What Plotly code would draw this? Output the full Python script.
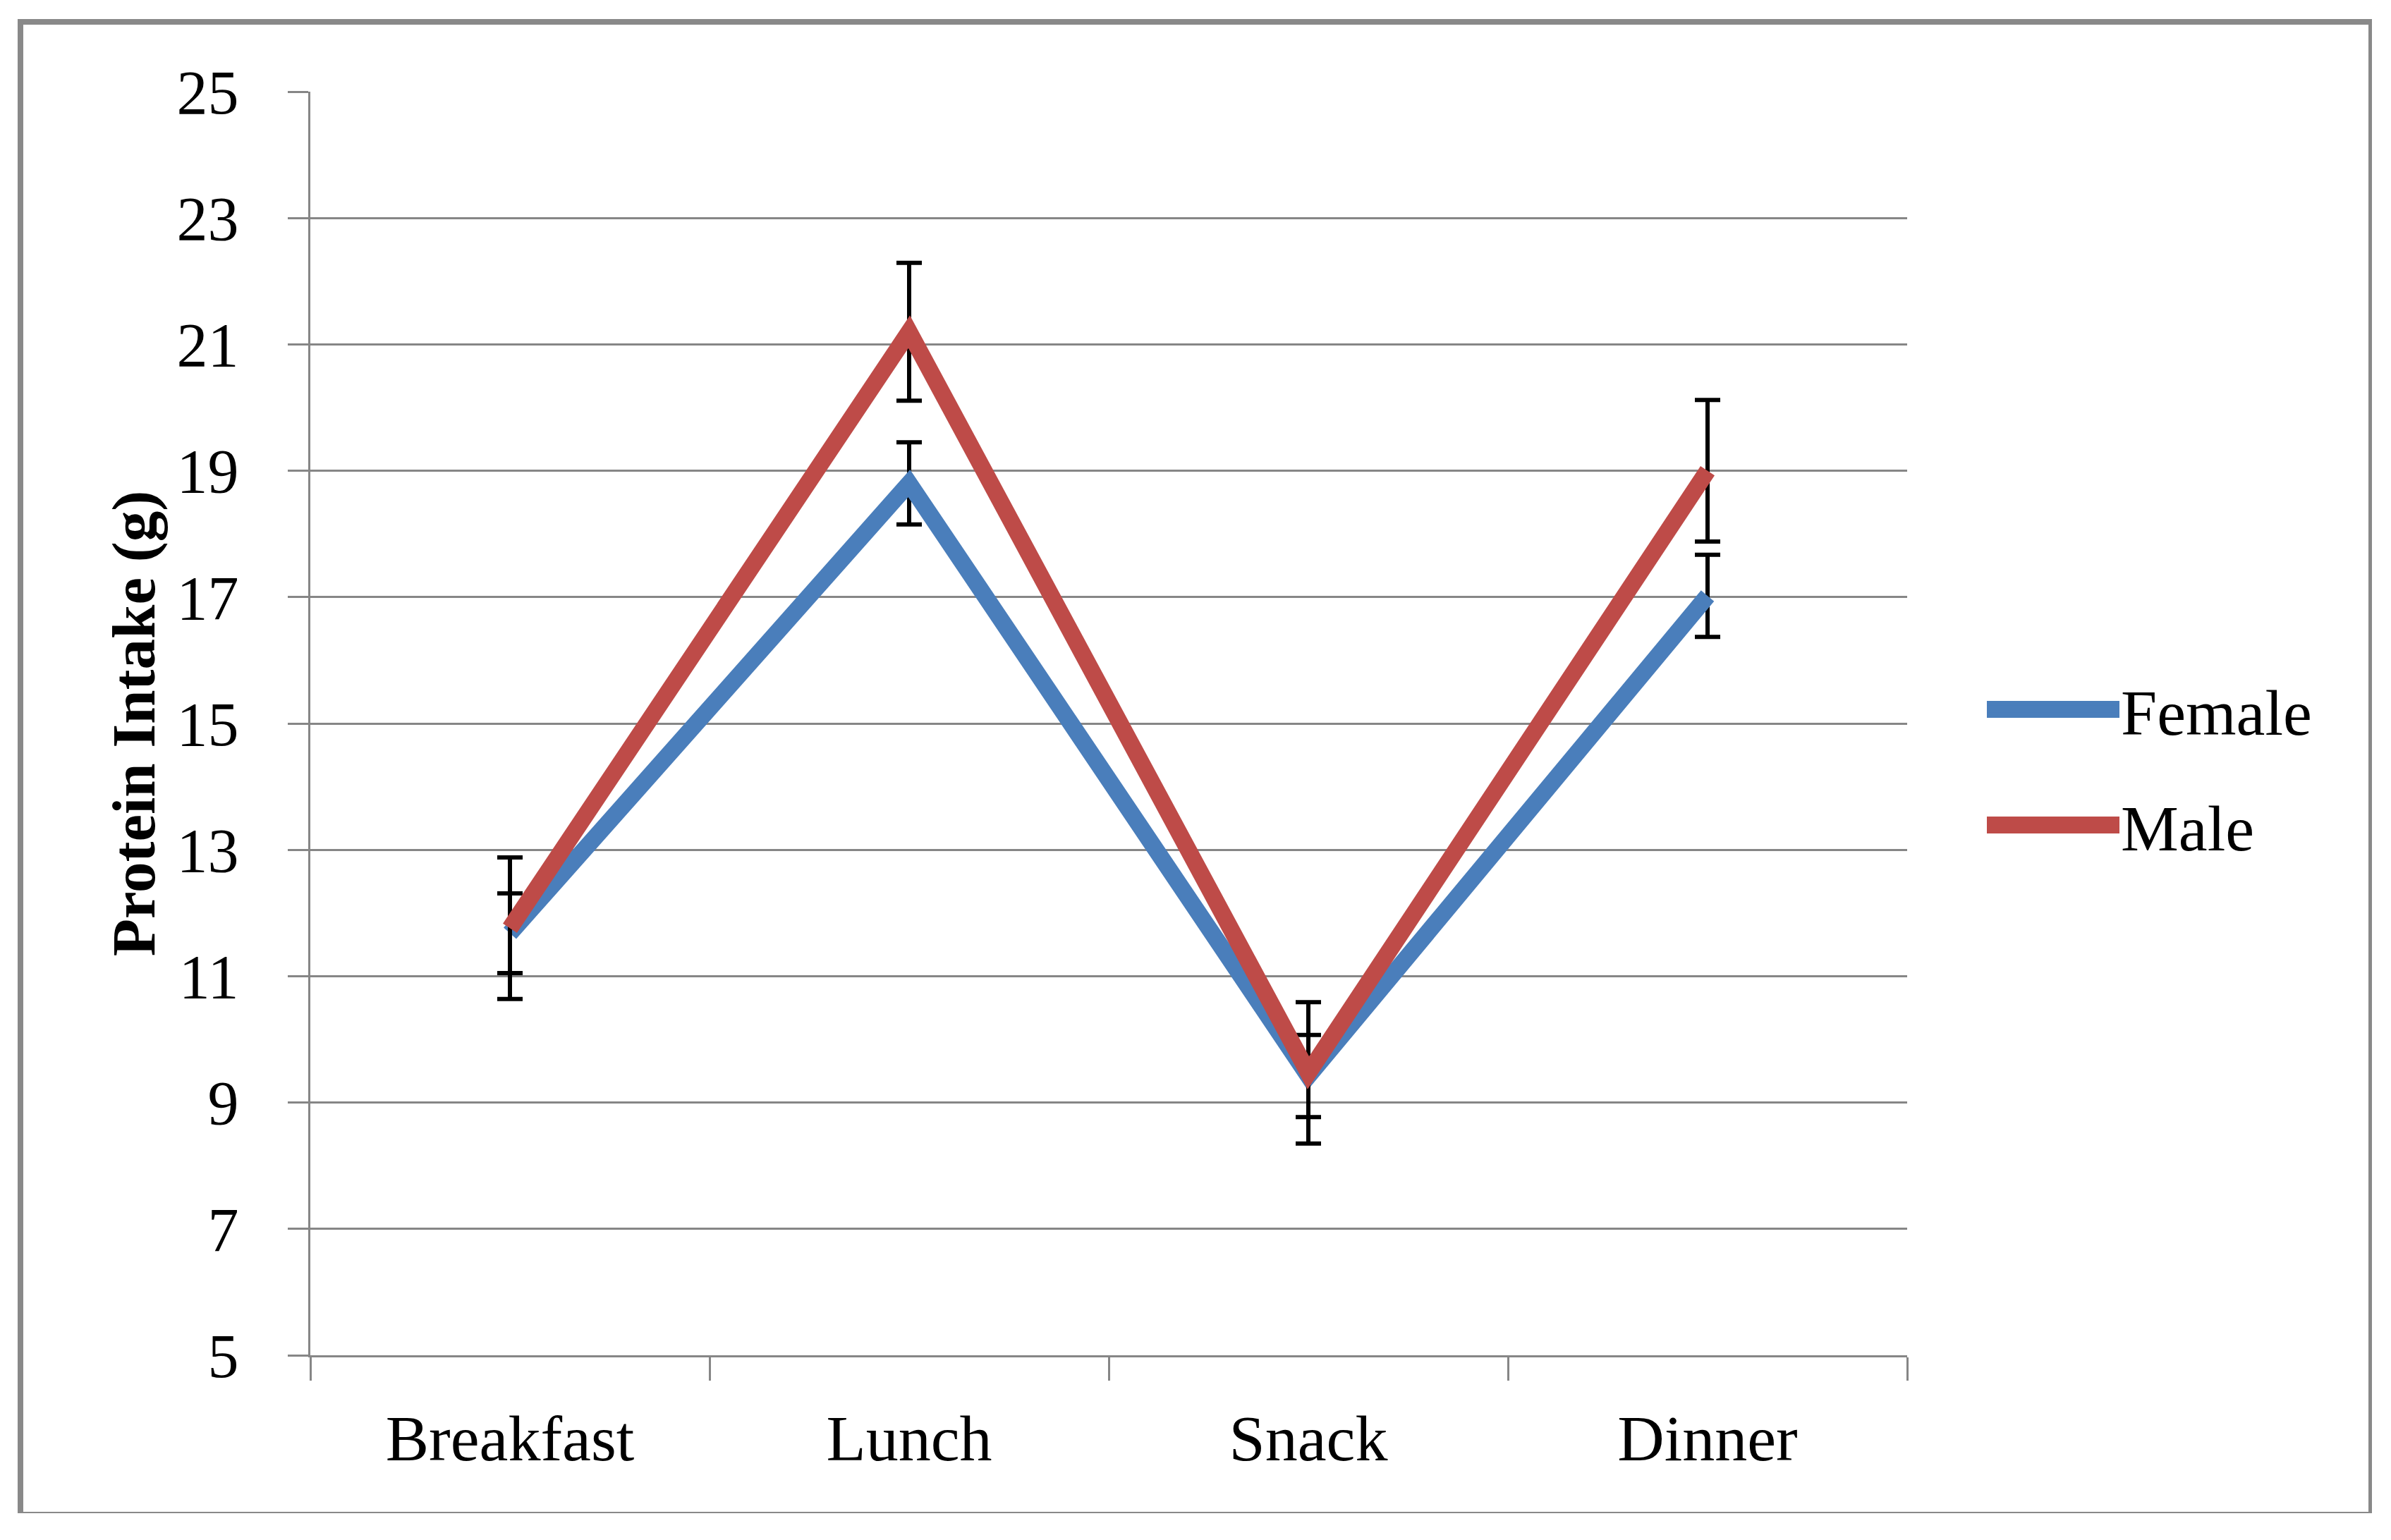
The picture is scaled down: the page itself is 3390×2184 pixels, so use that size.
import plotly.graph_objects as go

categories = ["Breakfast", "Lunch", "Snack", "Dinner"]
female = [11.68, 18.80, 9.42, 17.02]
female_err = [0.63, 0.65, 0.65, 0.65]
male = [11.76, 21.20, 9.47, 19.00]
male_err = [1.12, 1.09, 1.12, 1.12]
y_ticks = [5, 7, 9, 11, 13, 15, 17, 19, 21, 23, 25]

BLUE = "#4A7EBB"
RED = "#BE4B48"
GRAY = "#868686"
BORDER = "#898989"
FONT = "Liberation Serif"

W, H = 3390, 2184
OFF = 8  # page body margin offset
# plot area in reference page pixels
L, R, T, B = 440, 2704, 130, 1922
LINE_W = 24

fig = go.Figure()
fig.add_trace(go.Scatter(
    x=categories, y=female, name="Female", mode="lines",
    line=dict(color=BLUE, width=LINE_W),
    error_y=dict(type="data", array=female_err, color="black", thickness=6, width=18),
    legend="legend",
))
fig.add_trace(go.Scatter(
    x=categories, y=male, name="Male", mode="lines",
    line=dict(color=RED, width=LINE_W),
    error_y=dict(type="data", array=male_err, color="black", thickness=6, width=18),
    legend="legend2",
))

def px(xp):
    return (xp - L) / (R - L)

def py(yp):
    return (B - yp) / (B - T)

legend_common = dict(
    font=dict(family=FONT, size=92, color="black"),
    bgcolor="rgba(0,0,0,0)", itemwidth=185,
    xanchor="left", yanchor="middle", tracegroupgap=0,
)

def hline(x0, x1, y, w, color):
    return dict(type="line", xref="paper", yref="paper",
                x0=px(x0), x1=px(x1), y0=py(y), y1=py(y),
                line=dict(color=color, width=w), layer="above")

def vline(x, y0, y1, w, color):
    return dict(type="line", xref="paper", yref="paper",
                x0=px(x), x1=px(x), y0=py(y0), y1=py(y1),
                line=dict(color=color, width=w), layer="above")

shapes = [
    vline(29, 27, 2146, 8, BORDER),
    hline(25, 3363, 31, 8, BORDER),
    vline(3360.5, 27, 2146, 5, BORDER),
    hline(25, 3363, 2145, 2, BORDER),
    # thicker legend swatches under the legend's own line
    hline(2817, 3005, 1006, LINE_W, BLUE),
    hline(2817, 3005, 1170, LINE_W, RED),
]

fig.update_layout(
    width=W, height=H,
    margin=dict(l=L - OFF, r=W - (R - OFF), t=T - OFF, b=H - (B - OFF)),
    paper_bgcolor="white", plot_bgcolor="white",
    font=dict(family=FONT, size=90, color="black"),
    showlegend=True,
    legend=dict(x=px(2812), y=py(1006), **legend_common),
    legend2=dict(x=px(2812), y=py(1170), **legend_common),
    xaxis=dict(
        type="category", range=[-0.5, 3.5],
        showline=True, linecolor=GRAY, linewidth=3,
        ticks="outside", tickson="boundaries", ticklen=33, tickwidth=3, tickcolor=GRAY,
        showgrid=False, zeroline=False,
        tickfont=dict(family=FONT, size=92, color="black"),
        ticklabelstandoff=36,
    ),
    yaxis=dict(
        range=[5, 25], tickvals=y_ticks,
        showline=True, linecolor=GRAY, linewidth=3,
        ticks="outside", ticklen=29, tickwidth=3, tickcolor=GRAY,
        showgrid=True, gridcolor=GRAY, gridwidth=3, zeroline=False,
        tickfont=dict(family=FONT, size=88, color="black"),
        ticklabelstandoff=52,
        title=dict(text="<b>Protein Intake (g)</b>", font=dict(family=FONT, size=87, color="black"), standoff=2),
    ),
    shapes=shapes,
)

fig.write_html("out.html")
